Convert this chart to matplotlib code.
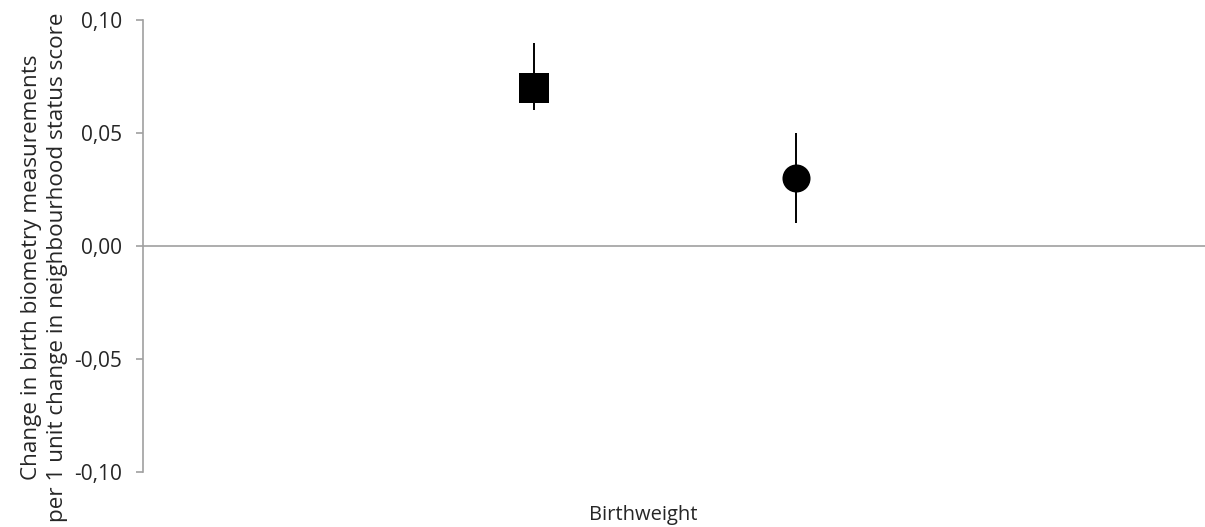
import matplotlib
matplotlib.use("Agg")
import matplotlib.pyplot as plt
from matplotlib.ticker import FuncFormatter

# Effect estimates with confidence intervals for birthweight
category = ["Birthweight"]
series_names = ["Model A", "Model B"]
estimates = [0.07, 0.03]
lower_ci = [0.06, 0.01]
upper_ci = [0.09, 0.05]
markers = ["s", "o"]
marker_sizes = [21.6, 20.2]
offsets = [-0.109, 0.153]

yticks = [-0.10, -0.05, 0.00, 0.05, 0.10]

plt.rcParams["font.family"] = ["Open Sans", "DejaVu Sans"]

fig = plt.figure(figsize=(12.05, 5.27), dpi=100)
ax = fig.add_axes([143 / 1205, 55 / 527, 1 - 143 / 1205, 452 / 527])

axis_grey = "#a0a0a0"
text_col = "#262626"

for est, lo, hi, mk, ms, off in zip(estimates, lower_ci, upper_ci, markers, marker_sizes, offsets):
    ax.errorbar([off], [est], yerr=[[est - lo], [hi - est]], fmt=mk, color="black",
                ms=ms, mew=0, elinewidth=1.4, capsize=0, zorder=3)

ax.axhline(0, color=axis_grey, lw=1.2, zorder=1)

ax.set_ylim(-0.10, 0.10)
ax.set_xlim(-0.5, 0.562)
ax.set_yticks(yticks)
ax.yaxis.set_major_formatter(FuncFormatter(lambda v, _: f"{v:.2f}".replace(".", ",")))
ax.tick_params(axis="y", direction="out", length=5, width=1.2, color=axis_grey,
               labelsize=15, pad=10, labelcolor=text_col)

ax.set_xticks([0])
ax.set_xticklabels(category)
ax.tick_params(axis="x", length=0, labelsize=14.5, pad=24, labelcolor=text_col)

for side in ["top", "right", "bottom"]:
    ax.spines[side].set_visible(False)
ax.spines["left"].set_color(axis_grey)
ax.spines["left"].set_linewidth(1.2)

ax.set_ylabel("Change in birth biometry measurements\nper 1 unit change in neighbourhood status score",
              fontsize=16.2, color=text_col, linespacing=1.3)
ax.yaxis.set_label_coords(-0.0706, 0.452)

fig.savefig("out.png", dpi=100)
